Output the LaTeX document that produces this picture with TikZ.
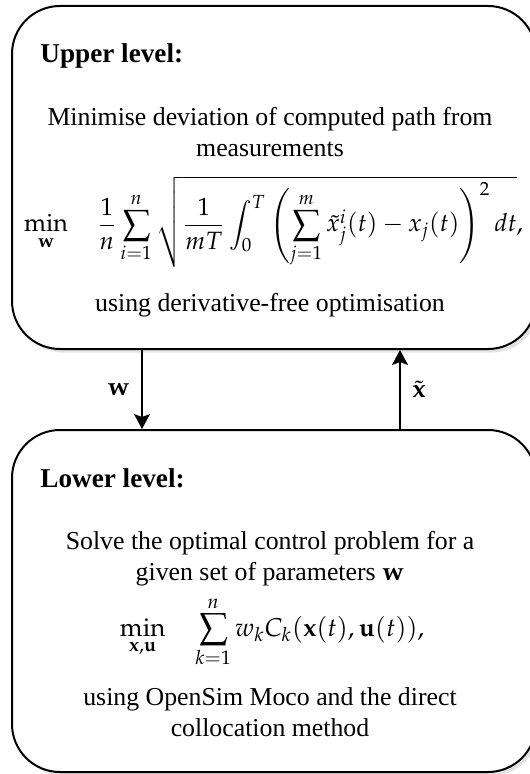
\documentclass[tikz,border=0pt]{standalone}
\usepackage{amsmath}
\usepackage{mathpazo}
\usepackage[no-math]{fontspec}
\setmainfont{Liberation Serif}
\usetikzlibrary{arrows.meta,positioning,shadows}

\begin{document}
\begin{tikzpicture}[
  x=0.5pt, y=-0.5pt, >={Stealth[length=7.5pt,width=8pt,inset=1.5pt]},
  lvlbox/.style={draw, line width=1pt, rounded corners=24pt, fill=white,
    minimum width=262pt, inner sep=0pt,
    drop shadow={opacity=0.22, shadow xshift=1.8pt, shadow yshift=-1.8pt}},
  hd/.style={font=\fontsize{13.6}{16}\selectfont\bfseries, inner sep=0pt, anchor=base west},
  txt/.style={font=\fontsize{12.9}{15.5}\selectfont, inner sep=0pt, align=center},
  eqn/.style={font=\fontsize{12.9}{15.5}\selectfont, inner sep=0pt, anchor=base},
  flow/.style={->, line width=0.75pt}]

\useasboundingbox (0,0) rectangle (529,774);

% ================================================================ upper level
\node[lvlbox, minimum height=171.5pt] (upper) at (274,177.5) {};
\node[hd] (uphd) at (40,63) {Upper level:};
\node[txt, anchor=north] (uptxt) at (270,106.5)
  {Minimise deviation of computed path from\\ measurements};
\node[eqn, font=\fontsize{12.5}{15}\selectfont] (upeq) at (273.5,232)
  {$\displaystyle \min_{\mathbf{w}}\quad \frac{1}{n}\sum_{i=1}^{n}
    \sqrt{\frac{1}{mT}\int_0^T\left(\sum_{j=1}^{m}\tilde{x}^i_j(t)-x_j(t)\right)^{2}dt},$};
\node[txt, anchor=base] (upfoot) at (270,312) {using derivative-free optimisation};

% ================================================================ lower level
\node[lvlbox, minimum height=171pt] (lower) at (274,601) {};
\node[hd] (lowhd) at (40,487) {Lower level:};
\node[txt, anchor=north] (lowtxt) at (270,530.5)
  {Solve the optimal control problem for a\\ given set of parameters $\mathbf{w}$};
\node[eqn] (loweq) at (272,636)
  {$\displaystyle \min_{\mathbf{x},\mathbf{u}}\quad \sum_{k=1}^{n} w_k C_k(\mathbf{x}(t),\mathbf{u}(t)),$};
\node[txt, anchor=north] (lowfoot) at (270,687.5)
  {using OpenSim Moco and the direct\\ collocation method};

% ================================================================ exchange
\coordinate (wcol) at (142,0);
\coordinate (xcol) at (400,0);
\draw[flow] (upper.south -| wcol) -- node[left=2.5pt, font=\fontsize{12.9}{15}\selectfont] (wlab) {$\mathbf{w}$}
  (lower.north -| wcol);
\draw[flow] (lower.north -| xcol) -- node[right=2.5pt, font=\fontsize{12.9}{15}\selectfont] (xlab) {$\tilde{\mathbf{x}}$}
  (upper.south -| xcol);

\end{tikzpicture}
\end{document}
